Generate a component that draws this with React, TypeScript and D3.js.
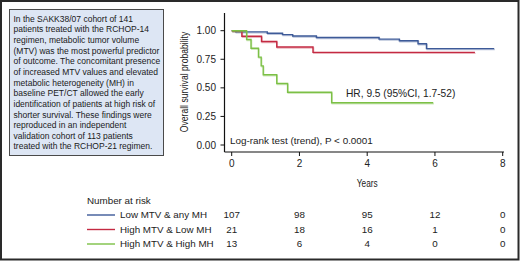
import React from "react";
import * as d3 from "d3";

const W = 520;
const H = 262;

const summaryLines = [
  "In the SAKK38/07 cohort of 141",
  "patients treated with the RCHOP-14",
  "regimen, metabolic tumor volume",
  "(MTV) was the most powerful predictor",
  "of outcome. The concomitant presence",
  "of increased MTV values and elevated",
  "metabolic heterogeneity (MH) in",
  "baseline PET/CT allowed the early",
  "identification of patients at high risk of",
  "shorter survival. These findings were",
  "reproduced in an independent",
  "validation cohort of 113 patients",
  "treated with the RCHOP-21 regimen.",
];

const groups = ["Low MTV & any MH", "High MTV & Low MH", "High MTV & High MH"];
const groupColors = ["#3d5a98", "#c42a42", "#7cc046"];

const blueTimes = [0, 0.12, 1.05, 1.5, 1.8, 2.5, 4.35, 4.95, 5.5, 5.75, 7.75];
const blueSurv = [1, 0.99, 0.978, 0.966, 0.954, 0.94, 0.926, 0.912, 0.886, 0.843, 0.843];
const redTimes = [0, 0.3, 0.88, 1.33, 2.4, 7.18];
const redSurv = [1, 0.952, 0.905, 0.857, 0.81, 0.81];
const greenTimes = [0, 0.44, 0.57, 0.79, 0.87, 0.93, 1.33, 1.65, 2.95, 5.95];
const greenSurv = [1, 0.923, 0.846, 0.769, 0.692, 0.615, 0.538, 0.462, 0.369, 0.369];

const seriesTimes = [blueTimes, redTimes, greenTimes];
const seriesSurv = [blueSurv, redSurv, greenSurv];

const riskTimes = [0, 2, 4, 6, 8];
const riskLow = [107, 98, 95, 12, 0];
const riskHighLow = [21, 18, 16, 1, 0];
const riskHighHigh = [13, 6, 4, 0, 0];
const riskRows = [riskLow, riskHighLow, riskHighHigh];

const xTicks = [0, 2, 4, 6, 8];
const yTicks = [0, 0.25, 0.5, 0.75, 1];

const FONT = "'Liberation Sans', Arial, Helvetica, sans-serif";

export default function App() {
  const x = d3.scaleLinear().domain([0, 8]).range([231.7, 502.7]);
  const y = d3.scaleLinear().domain([0, 1]).range([145, 30.7]);
  const axisY = 152;
  const axisX = 224.5;

  const line = d3
    .line<[number, number]>()
    .x((d) => x(d[0]))
    .y((d) => y(d[1]))
    .curve(d3.curveStepAfter);

  const rowY = [215, 229.5, 244];
  const boxScale = 0.905;

  return (
    <svg
      width={W}
      height={H}
      style={{ position: "absolute", left: 0, top: 0, background: "#fff" }}
      fontFamily={FONT}
    >
      <rect x={0} y={0} width={W} height={H} fill="#fff" />
      <rect x={1} y={1} width={517.5} height={258.5} fill="none" stroke="#2a2a2a" strokeWidth={2} />

      {/* summary box */}
      <rect x={9.5} y={9.5} width={154} height={146} fill="#dde6f4" stroke="#4a4a4a" strokeWidth={1} />
      <g transform={`translate(13.5,0) scale(${boxScale},1)`}>
        {summaryLines.map((t, i) => (
          <text key={i} x={0} y={21.8 + i * 10.64} fontSize={9.4} fill="#1a1a1a">
            {t}
          </text>
        ))}
      </g>

      {/* axes */}
      <line x1={axisX} x2={axisX} y1={13} y2={axisY} stroke="#111" strokeWidth={1.2} />
      <line x1={axisX} x2={504} y1={axisY} y2={axisY} stroke="#111" strokeWidth={1.2} />
      {yTicks.map((t) => (
        <g key={t}>
          <line x1={axisX - 4} x2={axisX} y1={y(t)} y2={y(t)} stroke="#111" strokeWidth={1} />
          <text x={216} y={y(t)} dy="0.35em" textAnchor="end" fontSize={10} fill="#222">
            {d3.format(".2f")(t)}
          </text>
        </g>
      ))}
      {xTicks.map((t) => (
        <g key={t}>
          <line x1={x(t)} x2={x(t)} y1={axisY} y2={axisY + 4} stroke="#111" strokeWidth={1} />
          <text x={x(t)} y={167} textAnchor="middle" fontSize={10} fill="#222">
            {t}
          </text>
        </g>
      ))}
      <g transform={`translate(${x(4)},187) scale(0.72,1)`}>
        <text x={0} y={0} textAnchor="middle" fontSize={11.5} fill="#222">
          Years
        </text>
      </g>
      <g transform={`translate(187.5,82) rotate(-90) scale(0.75,1)`}>
        <text x={0} y={0} textAnchor="middle" fontSize={11.5} fill="#222">
          Overall survival probability
        </text>
      </g>

      {/* curves */}
      {seriesTimes.map((ts, i) => {
        const pts = ts.map((t, j) => [t, seriesSurv[i][j]] as [number, number]);
        return (
          <g key={i}>
            <path d={line(pts) || ""} fill="none" stroke={groupColors[i]} strokeOpacity={0.35} strokeWidth={1.4} transform="translate(0.6,1)" />
            <path d={line(pts) || ""} fill="none" stroke={groupColors[i]} strokeWidth={1.4} />
          </g>
        );
      })}

      <text x={346} y={96.5} fontSize={10.2} fill="#222">
        HR, 9.5 (95%CI, 1.7-52)
      </text>
      <text x={230} y={144} fontSize={9.9} fill="#222">
        Log-rank test (trend), P {"<"} 0.0001
      </text>

      {/* number at risk */}
      <text x={87} y={204} fontSize={9.8} fill="#222">
        Number at risk
      </text>
      {groups.map((g, i) => (
        <g key={g}>
          <line x1={87} x2={115} y1={rowY[i]} y2={rowY[i]} stroke={groupColors[i]} strokeWidth={1.4} />
          <text x={120} y={rowY[i]} dy="0.35em" fontSize={9.8} fill="#222">
            {g}
          </text>
          {riskRows[i].map((v, j) => (
            <text key={j} x={x(riskTimes[j])} y={rowY[i]} dy="0.35em" textAnchor="middle" fontSize={9.8} fill="#222">
              {v}
            </text>
          ))}
        </g>
      ))}
    </svg>
  );
}
